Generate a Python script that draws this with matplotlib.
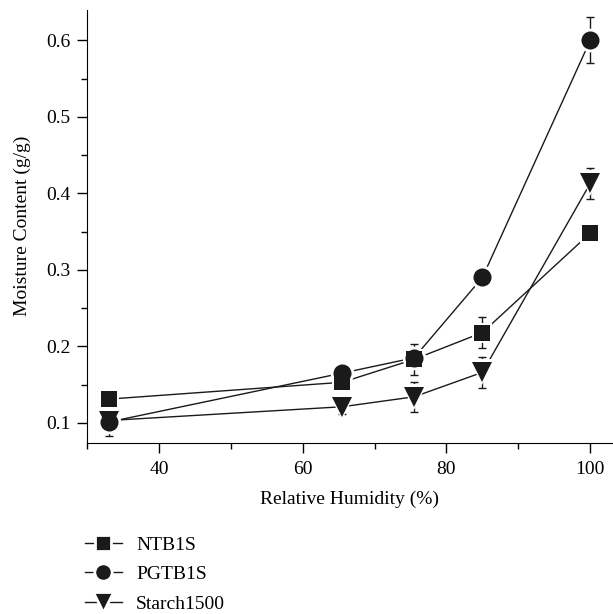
""" Moisture sorption plot with Matplotlib """

import matplotlib.pyplot as plt
from matplotlib.lines import Line2D
from matplotlib.ticker import MultipleLocator

plt.rcParams["font.family"] = ["Liberation Serif", "DejaVu Serif"]
plt.rcParams["font.size"] = 14

# Data
rh = [33, 65.5, 75.5, 85, 100]

ntb1s = [0.131, 0.153, 0.183, 0.218, 0.348]
ntb1s_err = [0.012, 0.01, 0.02, 0.02, 0.008]

pgtb1s = [0.101, 0.165, 0.185, 0.290, 0.600]
pgtb1s_err = [0.01, 0.008, 0.01, 0.008, 0.03]

starch = [0.103, 0.121, 0.134, 0.166, 0.413]
starch_err = [0.02, 0.01, 0.02, 0.02, 0.02]

labels = ["NTB1S", "PGTB1S", "Starch1500"]
markers = ["s", "o", "v"]
sizes = [11, 13, 15]
legend_sizes = [11.5, 12.5, 14.5]
BLACK = "#1a1a1a"

fig = plt.figure(figsize=(6.13, 6.14), dpi=100)
ax = fig.add_axes([0.142, 0.279, 0.856, 0.705])

series = [(ntb1s, ntb1s_err), (pgtb1s, pgtb1s_err), (starch, starch_err)]
for (vals, errs), m, s in zip(series, markers, sizes):
    # line + error bars
    ax.errorbar(rh, vals, yerr=errs, color=BLACK, lw=1, elinewidth=1,
                capsize=3, capthick=1, zorder=2)
    # white halo so lines stop short of the markers
    ax.plot(rh, vals, ls="none", marker=m, ms=s + 4, color="white",
            mew=0, zorder=3)
for (vals, errs), m, s in zip(series, markers, sizes):
    ax.plot(rh, vals, ls="none", marker=m, ms=s, color=BLACK, mew=0,
            zorder=4)

ax.set_xlim(30, 103)
ax.set_ylim(0.074, 0.64)
ax.xaxis.set_major_locator(MultipleLocator(20))
ax.xaxis.set_minor_locator(MultipleLocator(10))
ax.yaxis.set_major_locator(MultipleLocator(0.1))
ax.yaxis.set_minor_locator(MultipleLocator(0.05))
ax.yaxis.set_major_formatter(plt.FormatStrFormatter("%.1f"))
ax.tick_params(which="major", direction="out", length=7, width=1)
ax.tick_params(which="minor", direction="out", length=4, width=1)
ax.tick_params(axis="x", which="major", pad=6)
ax.tick_params(axis="y", which="major", pad=5)

ax.spines["top"].set_visible(False)
ax.spines["right"].set_visible(False)

ax.set_xlabel("Relative Humidity (%)", labelpad=9)
ax.set_ylabel("Moisture Content (g/g)", labelpad=11)

handles = [Line2D([], [], color=BLACK, lw=1, marker=m, ms=s,
                  mfc=BLACK, mec="white", mew=2)
           for m, s in zip(markers, legend_sizes)]
fig.legend(handles, labels, loc="upper left", bbox_to_anchor=(0.138, 0.127),
           frameon=False, handlelength=1.9, handletextpad=0.75,
           labelspacing=0.62, borderpad=0, borderaxespad=0)

plt.savefig("out.png", dpi=100)
